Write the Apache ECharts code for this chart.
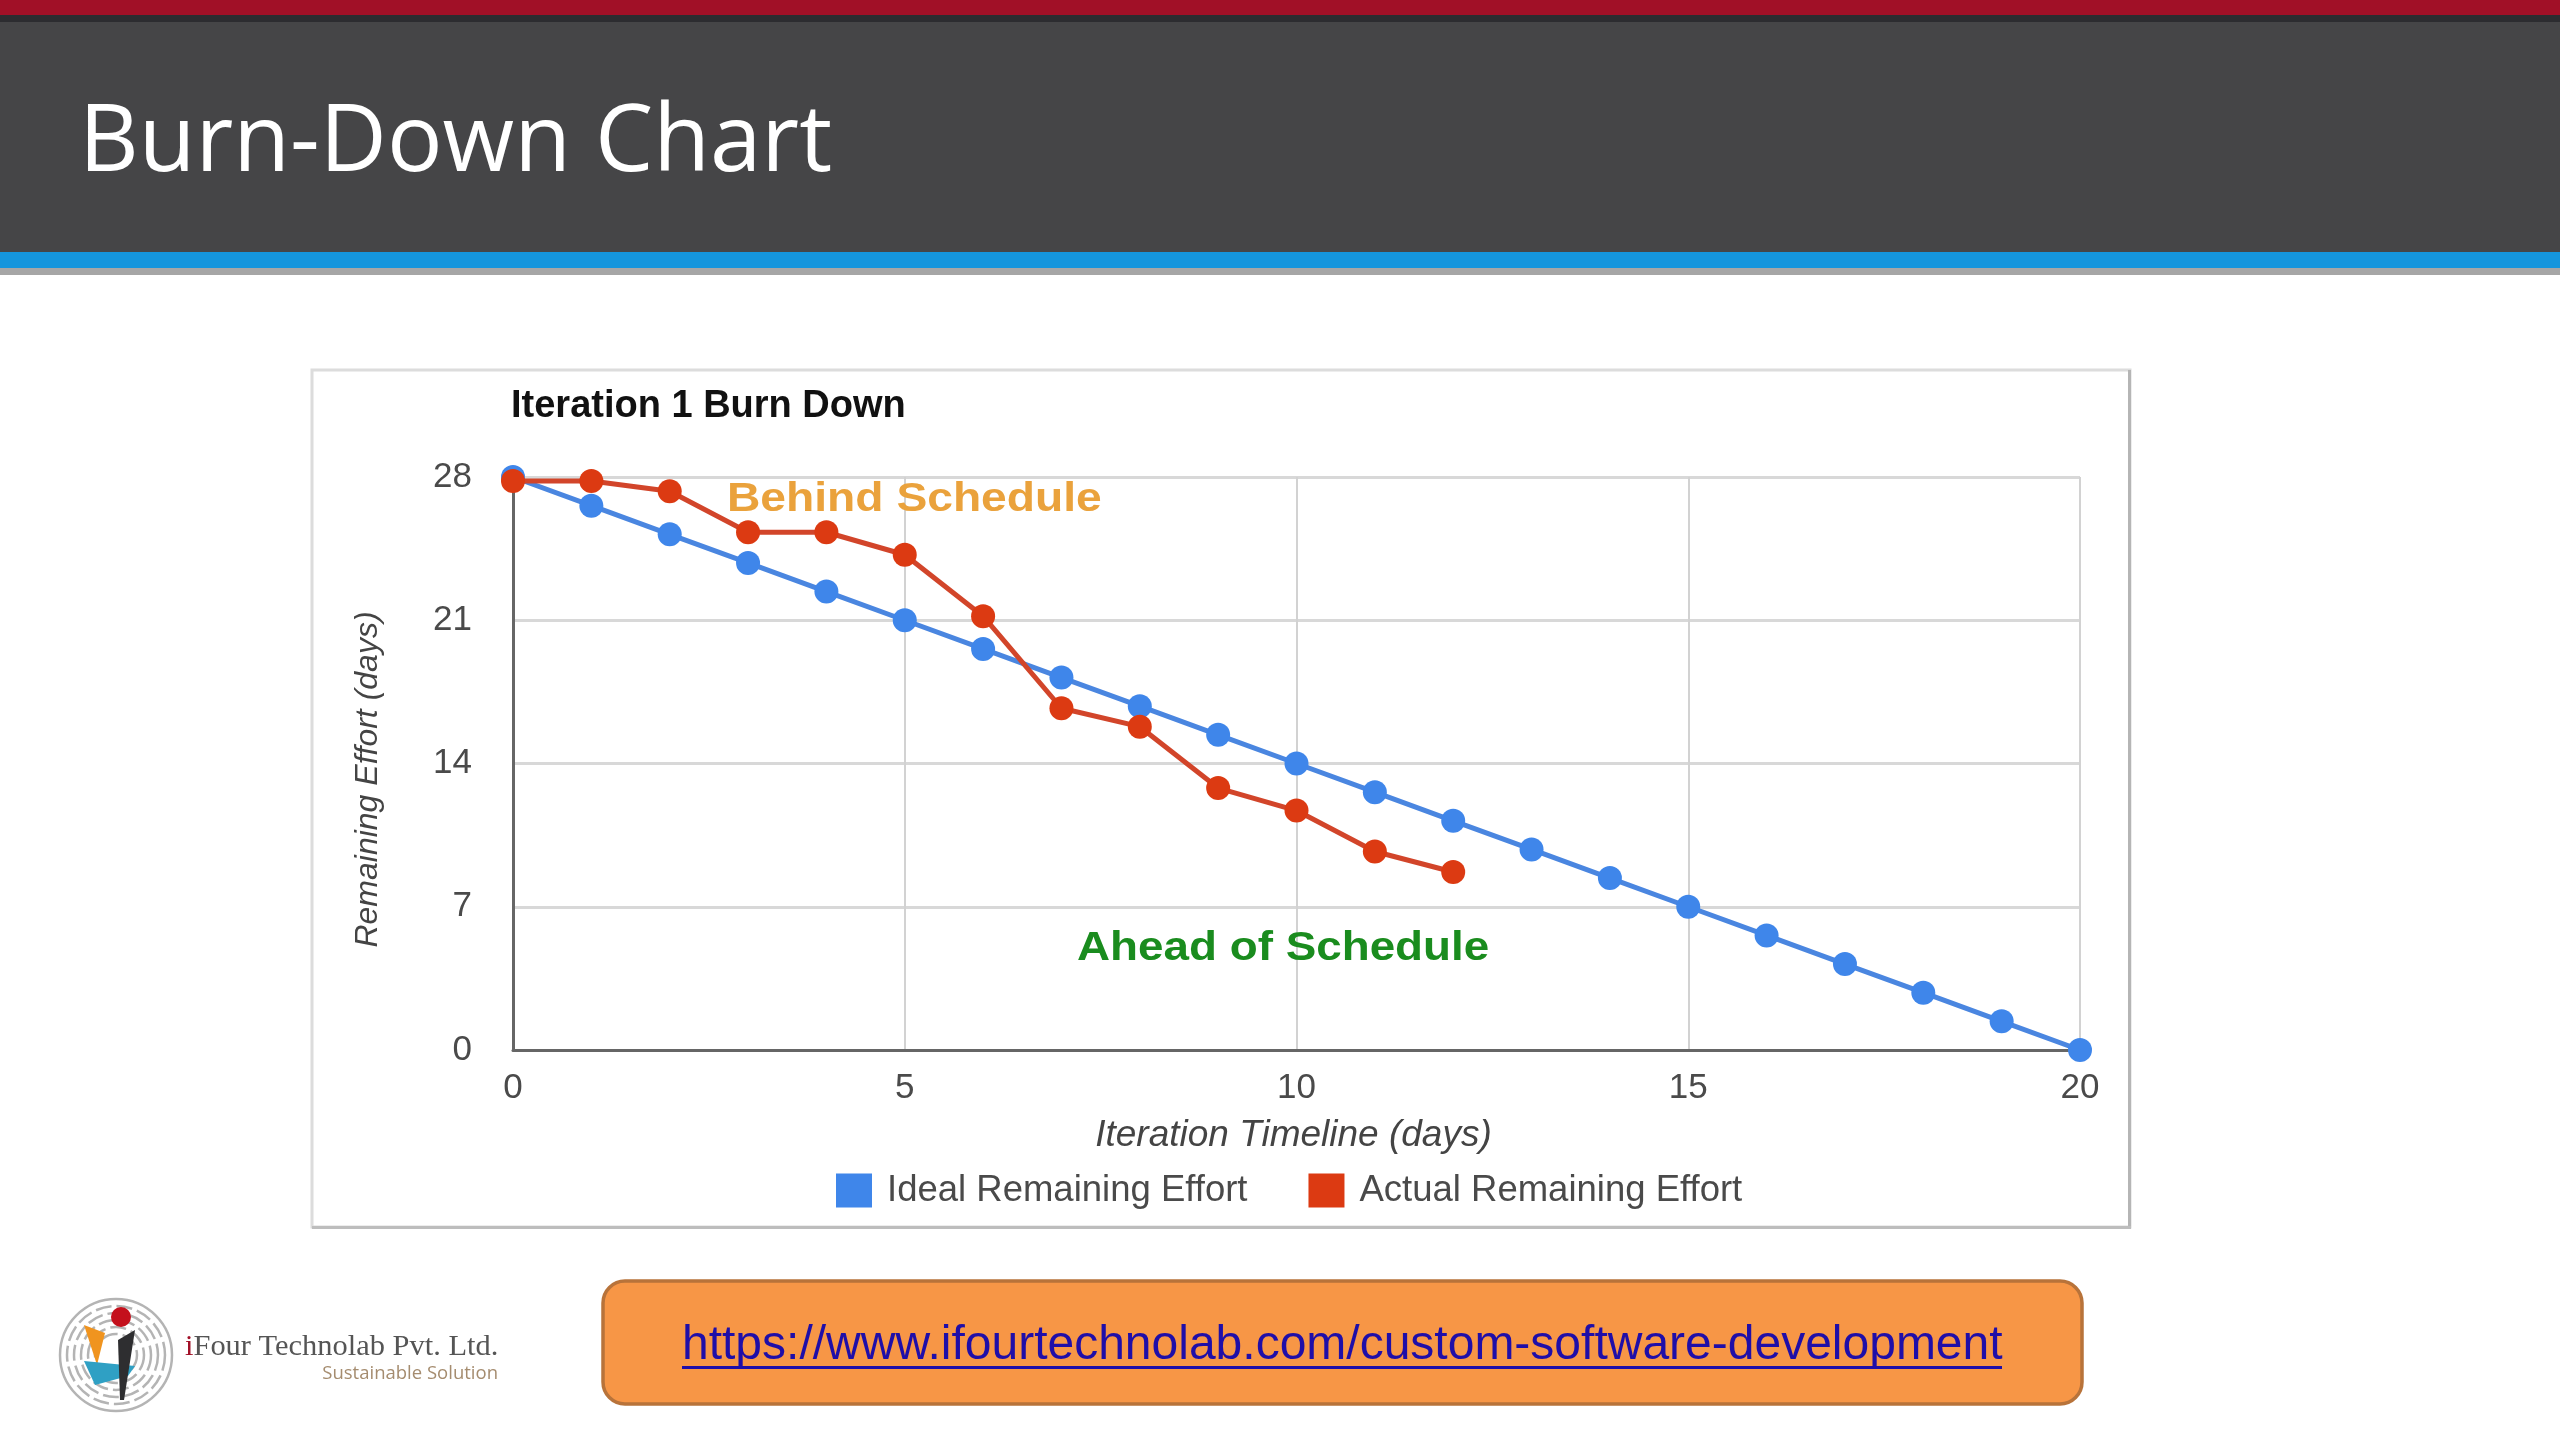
<!DOCTYPE html>
<html>
<head>
<meta charset="utf-8">
<style>html,body{margin:0;padding:0;background:#fff}#c{width:2560px;height:1440px}</style>
<script src="https://cdn.jsdelivr.net/npm/echarts@6/dist/echarts.min.js"></script>
</head>
<body>
<div id="c"></div>
<script>
const days = [0,1,2,3,4,5,6,7,8,9,10,11,12,13,14,15,16,17,18,19,20];
const idealRemaining = [28,26.6,25.2,23.8,22.4,21,19.6,18.2,16.8,15.4,14,12.6,11.2,9.8,8.4,7,5.6,4.2,2.8,1.4,0];
const actualRemaining = [27.8,27.8,27.3,25.3,25.3,24.2,21.2,16.7,15.8,12.8,11.7,9.7,8.7];
const slideTitle = 'Burn-Down Chart';
const chartTitle = 'Iteration 1 Burn Down';
const seriesNames = ['Ideal Remaining Effort','Actual Remaining Effort'];
const xAxisName = 'Iteration Timeline (days)';
const yAxisName = 'Remaining Effort (days)';
const noteBehind = 'Behind Schedule';
const noteAhead = 'Ahead of Schedule';
const linkText = 'https://www.ifourtechnolab.com/custom-software-development';
const logoName = 'Four Technolab Pvt. Ltd.';
const logoTag = 'Sustainable Solution';

const pairs = (ys) => ys.map((y,i)=>[days[i],y]);
const chart = echarts.init(document.getElementById('c'));
const rect = (x,y,w,h,fill,z=-5,extra={}) => ({type:'rect',z,silent:true,shape:{x,y,width:w,height:h,...(extra.shape||{})},style:{fill,...(extra.style||{})}});
const txt = (x,y,text,font,fill,align='left',z=5,extra={},el={}) => ({type:'text',x,y,z,silent:true,...el,style:{text,font,fill,align,verticalAlign:'middle',...extra}});
const rings = [56,49,42,35,28,21].map(r=>({type:'circle',z:1,silent:true,shape:{cx:116,cy:1355,r},style:{fill:r===56?'#fff':'none',stroke:'#b4b4b4',lineWidth:2.5,lineDash:r===56?null:[16,5]}}));

chart.setOption({
  animation:false,
  backgroundColor:'#ffffff',
  textStyle:{fontFamily:'Liberation Sans'},
  title:{text:chartTitle,left:506,top:383,textStyle:{fontFamily:'Liberation Sans',fontSize:38,fontWeight:'bold',color:'#111'}},
  legend:{left:836,top:1172,padding:0,itemWidth:36,itemHeight:34,itemGap:61,icon:'rect',
    data:seriesNames,
    textStyle:{fontFamily:'Liberation Sans',fontSize:36.5,color:'#4a4a4a',padding:[0,0,0,10]}},
  grid:{left:513,right:480,top:477,bottom:390},
  xAxis:{type:'value',min:0,max:20,interval:5,
    name:xAxisName,nameLocation:'middle',nameGap:67,
    nameTextStyle:{fontFamily:'Liberation Sans',fontSize:37,fontStyle:'italic',color:'#444',padding:[0,6,0,0]},
    axisLine:{show:true,onZero:false,lineStyle:{color:'#666',width:3}},axisTick:{show:false},
    axisLabel:{margin:21,fontSize:35,color:'#4a4a4a',fontFamily:'Liberation Sans',showMinLabel:true,showMaxLabel:true,hideOverlap:false},
    splitLine:{show:true,lineStyle:{color:'#d2d2d2',width:2}}},
  yAxis:{type:'value',min:0,max:28,interval:7,
    name:yAxisName,nameLocation:'middle',nameGap:129,nameRotate:90,
    nameTextStyle:{fontFamily:'Liberation Sans',fontSize:32,fontStyle:'italic',color:'#444',padding:[0,32,0,0]},
    axisLine:{show:true,onZero:false,lineStyle:{color:'#666',width:3}},axisTick:{show:false},
    axisLabel:{margin:41,fontSize:35,color:'#4a4a4a',fontFamily:'Liberation Sans',showMinLabel:true,showMaxLabel:true,hideOverlap:false},
    splitLine:{show:true,lineStyle:{color:'#d8d8d8',width:3}}},
  series:[
    {name:seriesNames[0],type:'line',data:pairs(idealRemaining),clip:false,z:3,symbol:'circle',symbolSize:24,showAllSymbol:true,
     lineStyle:{color:'#4a86e0',width:5},itemStyle:{color:'#3f86ea'}},
    {name:seriesNames[1],type:'line',data:pairs(actualRemaining),clip:false,z:4,symbol:'circle',symbolSize:24,showAllSymbol:true,
     lineStyle:{color:'#d2452a',width:5},itemStyle:{color:'#dc3a12'}}
  ],
  graphic:{elements:[
    rect(0,0,2560,15,'#a11027'),
    rect(0,15,2560,7,'#2c2c30'),
    rect(0,22,2560,230,'#454547'),
    rect(0,252,2560,16,'#1595dc'),
    rect(0,268,2560,7,'#a6a6a6'),
    txt(79,145,slideTitle,'92.5px "Open Sans"','#ffffff'),
    {type:'rect',z:-6,silent:true,shape:{x:312,y:370,width:1818,height:857},style:{fill:'#fff',stroke:'#dcdcdc',lineWidth:3}},
    rect(2128,370,3,858,'#b5b5b5',-4),
    rect(312,1226,1819,3,'#bdbdbd',-4),
    txt(727,500,noteBehind,'bold 40px "Liberation Sans"','#eaa23c','left',5,{},{scaleX:1.155}),
    txt(1077,949,noteAhead,'bold 40px "Liberation Sans"','#1a8c1e','left',5,{},{scaleX:1.145}),
    {type:'rect',z:1,silent:true,shape:{x:603,y:1281,width:1479,height:123,r:22},style:{fill:'#f79646',stroke:'#b8733a',lineWidth:3.5}},
    txt(682,1346,linkText,'48px "Liberation Sans"','#1f0ea8','left',5),
    rect(682,1366,1320,3,'#1f0ea8',5),
    ...rings,
    {type:'polygon',z:2,silent:true,shape:{points:[[84,1325],[105,1333],[97,1365]]},style:{fill:'#f0941f'}},
    {type:'polygon',z:2,silent:true,shape:{points:[[84,1361],[135,1366],[128,1376],[95,1385]]},style:{fill:'#2fa0c4'}},
    {type:'polygon',z:3,silent:true,shape:{points:[[118,1340],[135,1330],[124,1400],[120,1400]]},style:{fill:'#2e2e30'}},
    {type:'circle',z:4,silent:true,shape:{cx:121,cy:1317,r:10},style:{fill:'#c4101c'}},
    {type:'text',x:185,y:1347,z:5,scaleX:1.05,silent:true,style:{text:'{a|i}{b|'+logoName+'}',verticalAlign:'middle',rich:{a:{font:'29px "Liberation Serif"',fill:'#a11027'},b:{font:'29px "Liberation Serif"',fill:'#555'}}}},
    txt(498,1374,logoTag,'18.5px "Open Sans"','#a58c6f','right')
  ]}
});
</script>
</body>
</html>
